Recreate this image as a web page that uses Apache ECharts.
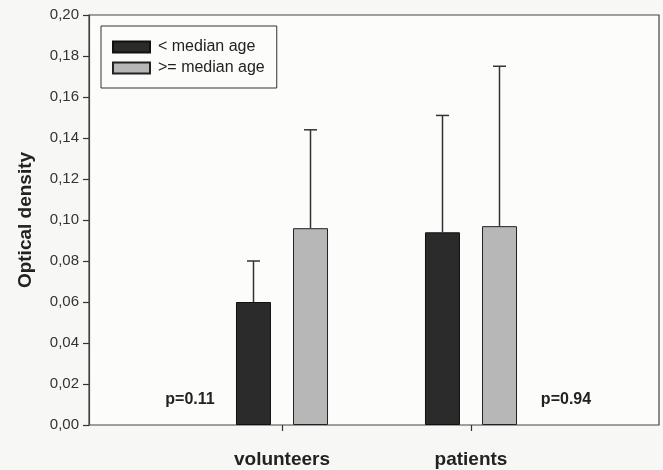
<!DOCTYPE html>
<html>
<head>
<meta charset="utf-8">
<title>Optical density</title>
<style>
  html, body { margin: 0; padding: 0; background: #f7f7f5; }
  #chart { width: 663px; height: 470px; }
</style>
</head>
<body>
<div id="chart"></div>
<script src="https://cdn.jsdelivr.net/npm/echarts@6/dist/echarts.min.js"></script>
<script>
// data
var groups = ['volunteers', 'patients'];
var seriesNames = ['< median age', '>= median age'];
var belowMean = [0.060, 0.094];   // < median age
var belowUpper = [0.080, 0.151];  // top of error bar
var aboveMean = [0.096, 0.097];   // >= median age
var aboveUpper = [0.144, 0.175];
var pLabels = ['p=0.11', 'p=0.94'];

var FONT = 'Liberation Sans, Arial, sans-serif';

function errData(mean, upper) {
    var out = [];
    for (var i = 0; i < mean.length; i++) {
        out.push([i, mean[i], upper[i]]);
    }
    return out;
}

// draws one-sided error bar (stem + cap), shifted by the bar's pixel offset
function errorBar(offset) {
    return function (params, api) {
        var p0 = api.coord([api.value(0), api.value(1)]);
        var p1 = api.coord([api.value(0), api.value(2)]);
        var x = p0[0] + offset;
        var st = { stroke: '#333', lineWidth: 1.5 };
        return {
            type: 'group',
            children: [
                { type: 'line', shape: { x1: x, y1: p0[1], x2: x, y2: p1[1] }, style: st },
                { type: 'line', shape: { x1: x - 6.5, y1: p1[1], x2: x + 6.5, y2: p1[1] }, style: st }
            ]
        };
    };
}

var myChart = echarts.init(document.getElementById('chart'));

var option = {
    backgroundColor: '#f7f7f5',
    animation: false,
    textStyle: { fontFamily: FONT },
    legend: {
        data: seriesNames,
        orient: 'vertical',
        left: 101,
        top: 26,
        itemWidth: 37,
        itemHeight: 11,
        itemGap: 5,
        padding: [13, 12, 12, 11],
        borderColor: '#333',
        borderWidth: 1,
        icon: 'rect',
        textStyle: { fontSize: 16, color: '#222', fontFamily: FONT, padding: [0, 0, 0, 3] }
    },
    grid: [
        // frame + y axis
        { left: 89, right: 4, top: 15, bottom: 45, show: true, borderColor: '#444', borderWidth: 1.2, backgroundColor: '#fcfcfb' },
        // bars
        { left: 187.5, right: 97.5, top: 15, bottom: 45 }
    ],
    xAxis: [
        { type: 'value', gridIndex: 0, min: 0, max: 1, show: false },
        {
            type: 'category', gridIndex: 1, data: groups,
            axisLine: { show: false },
            axisTick: { show: true, alignWithLabel: true, length: 6, lineStyle: { color: '#333', width: 1.2 } },
            axisLabel: { fontSize: 19, fontWeight: 'bold', color: '#222', margin: 25, fontFamily: FONT },
            splitLine: { show: false }
        }
    ],
    yAxis: [
        {
            type: 'value', gridIndex: 0, min: 0, max: 0.2, interval: 0.02,
            name: 'Optical density',
            nameLocation: 'middle',
            nameGap: 54,
            nameTextStyle: { fontSize: 19, fontWeight: 'bold', color: '#222', fontFamily: FONT },
            axisLine: { show: true, lineStyle: { color: '#444', width: 1.2 } },
            axisTick: { show: true, length: 6, lineStyle: { color: '#333', width: 1.2 } },
            axisLabel: {
                fontSize: 15, color: '#333', margin: 10, fontFamily: FONT,
                formatter: function (v) { return v.toFixed(2).replace('.', ','); }
            },
            splitLine: { show: false }
        },
        { type: 'value', gridIndex: 1, min: 0, max: 0.2, show: false }
    ],
    series: [
        {
            name: seriesNames[0], type: 'bar', xAxisIndex: 1, yAxisIndex: 1,
            data: belowMean, barWidth: 35, barGap: '63%',
            itemStyle: { color: '#2b2b2b', borderColor: '#111', borderWidth: 1 }
        },
        {
            name: seriesNames[1], type: 'bar', xAxisIndex: 1, yAxisIndex: 1,
            data: aboveMean, barWidth: 35,
            itemStyle: { color: '#b7b7b7', borderColor: '#222', borderWidth: 1 }
        },
        {
            type: 'custom', xAxisIndex: 1, yAxisIndex: 1, z: 1,
            renderItem: errorBar(-28.5), data: errData(belowMean, belowUpper)
        },
        {
            type: 'custom', xAxisIndex: 1, yAxisIndex: 1, z: 1,
            renderItem: errorBar(28.5), data: errData(aboveMean, aboveUpper)
        }
    ],
    graphic: [
        { type: 'text', x: 190, y: 400, style: { text: pLabels[0], font: 'bold 16px ' + FONT, fill: '#222', align: 'center', verticalAlign: 'middle' } },
        { type: 'text', x: 566, y: 400, style: { text: pLabels[1], font: 'bold 16px ' + FONT, fill: '#222', align: 'center', verticalAlign: 'middle' } }
    ]
};

myChart.setOption(option);
</script>
</body>
</html>
